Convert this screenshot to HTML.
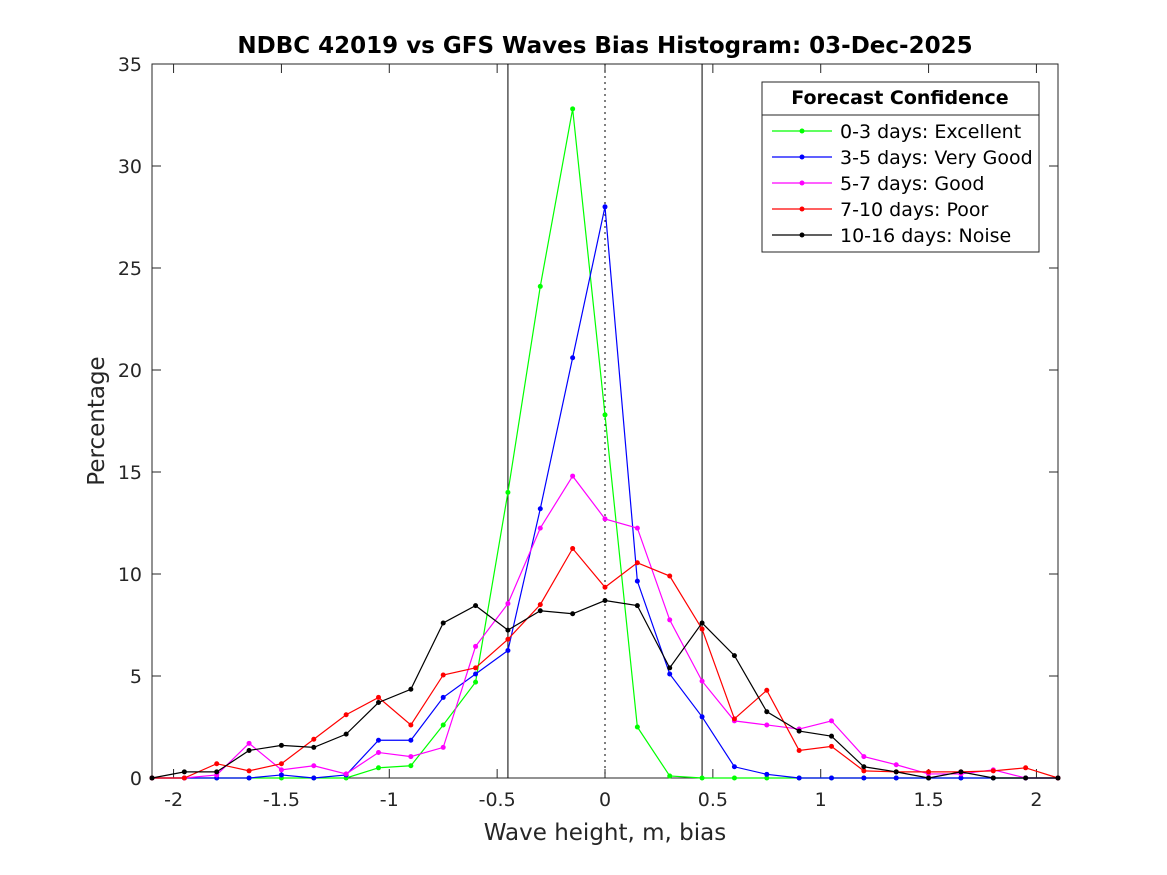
<!DOCTYPE html>
<html><head><meta charset="utf-8"><style>
body{margin:0;background:#fff;}
svg{display:block;font-family:"DejaVu Sans","Liberation Sans",sans-serif;}
</style></head><body>
<svg id="c" width="1167" height="875"></svg>
<script>
const xValues=[-2.1,-1.95,-1.8,-1.65,-1.5,-1.35,-1.2,-1.05,-0.9,-0.75,-0.6,-0.45,-0.3,-0.15,0,0.15,0.3,0.45,0.6,0.75,0.9,1.05,1.2,1.35,1.5,1.65,1.8,1.95,2.1];
const green=[0,0,0,0,0,0,0,0.5,0.6,2.6,4.7,14.0,24.1,32.8,17.8,2.5,0.1,0,0,0,0,0,0,0,0,0,0,0,0];
const blue=[0,0,0,0,0.15,0,0.15,1.85,1.85,3.95,5.1,6.25,13.2,20.6,28.0,9.65,5.1,3.0,0.55,0.18,0,0,0,0,0,0,0,0,0];
const magenta=[0,0,0.15,1.7,0.4,0.6,0.2,1.25,1.05,1.5,6.45,8.55,12.25,14.8,12.7,12.25,7.75,4.75,2.8,2.6,2.4,2.8,1.05,0.65,0.2,0.2,0.4,0,0];
const red=[0,0,0.7,0.35,0.7,1.9,3.1,3.95,2.6,5.05,5.4,6.8,8.5,11.25,9.35,10.55,9.9,7.3,2.9,4.3,1.35,1.55,0.35,0.3,0.3,0.3,0.35,0.5,0];
const black=[0,0.3,0.3,1.35,1.6,1.5,2.15,3.7,4.35,7.6,8.45,7.25,8.2,8.05,8.7,8.45,5.4,7.6,6.0,3.25,2.3,2.05,0.55,0.3,0,0.3,0,0,0];
const seriesNames=["0-3 days: Excellent","3-5 days: Very Good","5-7 days: Good","7-10 days: Poor","10-16 days: Noise"];
const xTicks=[-2,-1.5,-1,-0.5,0,0.5,1,1.5,2];
const xTickLabels=["-2","-1.5","-1","-0.5","0","0.5","1","1.5","2"];
const yTicks=[0,5,10,15,20,25,30,35];
const refLines=[-0.45,0.45];

const L=152,R=1058,T=64,B=778,xmin=-2.1,xmax=2.1,ymin=0,ymax=35;
const X=v=>L+(v-xmin)/(xmax-xmin)*(R-L);
const Y=v=>B-(v-ymin)/(ymax-ymin)*(B-T);
const svg=document.getElementById('c');
const NS='http://www.w3.org/2000/svg';
function el(t,a,p){const e=document.createElementNS(NS,t);for(const k in a)e.setAttribute(k,a[k]);(p||svg).appendChild(e);return e;}

const frame=el('rect',{x:L,y:T,width:R-L,height:B-T,fill:'#fff',stroke:'#262626','stroke-width':1});



const xg=el('g',{});


xTicks.forEach((v,i)=>{
  el('line',{x1:X(v),x2:X(v),y1:B,y2:B-9,stroke:'#262626'},xg);
  el('line',{x1:X(v),x2:X(v),y1:T,y2:T+9,stroke:'#262626'},xg);
  const t=el('text',{x:X(v),y:B+28,'text-anchor':'middle','font-size':19,fill:'#262626'},xg);
  t.textContent=xTickLabels[i];
  
  
});
const yg=el('g',{});


yTicks.forEach(v=>{
  el('line',{x1:L,x2:L+9,y1:Y(v),y2:Y(v),stroke:'#262626'},yg);
  el('line',{x1:R,x2:R-9,y1:Y(v),y2:Y(v),stroke:'#262626'},yg);
  const t=el('text',{x:L-10,y:Y(v)+7,'text-anchor':'end','font-size':19,fill:'#262626'},yg);
  t.textContent=String(v);
  
  
});

refLines.forEach(v=>{
  const l=el('line',{x1:X(v),x2:X(v),y1:T,y2:B,stroke:'#000','stroke-width':1});
  
  
});
const zl=el('line',{x1:X(0),x2:X(0),y1:T,y2:B,stroke:'#000','stroke-width':1,'stroke-dasharray':'2,4'});



const series=[[green,'#00ff00'],[blue,'#0000ff'],[magenta,'#ff00ff'],[red,'#ff0000'],[black,'#000000']];
series.forEach(([d,c],si)=>{
  const g=el('g',{});
  
  
  el('polyline',{points:d.map((v,i)=>X(xValues[i])+','+Y(v)).join(' '),fill:'none',stroke:c,'stroke-width':1.2},g);
  d.forEach((v,i)=>{
    const p=el('circle',{cx:X(xValues[i]),cy:Y(v),r:2.5,fill:c},g);
    
    
  });
});

const lg=el('g',{});


el('rect',{x:762,y:82,width:277,height:170,fill:'#fff',stroke:'#262626'},lg);
el('line',{x1:762,x2:1039,y1:115,y2:115,stroke:'#262626'},lg);
const lt=el('text',{x:900,y:104,'text-anchor':'middle','font-size':19,'font-weight':'bold',fill:'#000'},lg);
lt.textContent='Forecast Confidence';


series.forEach(([d,c],si)=>{
  const y=131+si*26;
  el('line',{x1:772,x2:832,y1:y,y2:y,stroke:c,'stroke-width':1.2},lg);
  el('circle',{cx:802,cy:y,r:2.5,fill:c},lg);
  const t=el('text',{x:840,y:y+7,'font-size':19,fill:'#000'},lg);
  t.textContent=seriesNames[si];
  
  
});

const ti=el('text',{x:605,y:53,'text-anchor':'middle','font-size':23,'font-weight':'bold',fill:'#000'});
ti.textContent='NDBC 42019 vs GFS Waves Bias Histogram: 03-Dec-2025';


const xt=el('text',{x:605,y:840,'text-anchor':'middle','font-size':23,fill:'#262626'});
xt.textContent='Wave height, m, bias';


const yt=el('text',{x:0,y:0,'text-anchor':'middle','font-size':23,fill:'#262626',transform:'translate(104,421) rotate(-90)'});
yt.textContent='Percentage';


</script>
</body></html>
